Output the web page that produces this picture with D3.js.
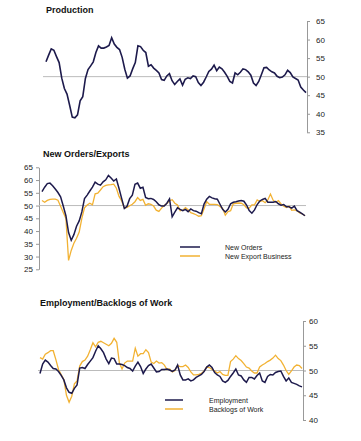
<!DOCTYPE html>
<html>
<head>
    <meta charset="utf-8">
    <title></title>
    <script src="https://d3js.org/d3.v7.min.js"></script>
    <style>
        body { margin: 0; background: #fff; }
        svg { font-family: "Liberation Sans", Arial, sans-serif; }
        .title { font-size: 9px; font-weight: bold; fill: #111; }
        .axis text { font-size: 8px; fill: #222; }
        .axis path, .axis line { stroke: #999; }
        .ref { stroke: #bbb; stroke-width: 1; }
        .legend text { font-size: 7px; fill: #222; }
    </style>
</head>
<body>
<div id="vis"></div>
<script>

    // monthly index values
    var production = [54, 55.8, 57.5, 57.1, 55.4, 53.8, 49.6, 46.8, 45.3, 42.3,
        39.1, 38.9, 39.7, 43.5, 44.6, 49.5, 51.9, 52.9, 54, 56.5,
        58.3, 57.7, 57.7, 58, 58.4, 60.5, 58.8, 57.9, 57.3, 55.2,
        52, 49.6, 50.2, 52.1, 53.8, 58.3, 58.1, 57.1, 56.5, 52.8,
        53.2, 52.3, 51.7, 51, 49.2, 49, 50.2, 50.8, 48.9, 47.9,
        48.7, 49.4, 47.7, 49.3, 49.7, 49.5, 50.2, 50, 48.4, 47.6,
        48.5, 49.9, 51.4, 52, 53.1, 51.6, 52.6, 52.1, 51.2, 50.1,
        48.7, 48.3, 51, 50.5, 51.2, 52.1, 51.9, 51.3, 50.4, 48.3,
        47.6, 48.7, 50.5, 52.4, 52.5, 51.8, 51.3, 51, 50.1, 49.7,
        49.9, 50.5, 51.7, 51.1, 49.9, 49.5, 49.1, 47.2, 46.4, 45.7];

    var newOrders = [55.5, 57.2, 58.6, 58.8, 57.8, 56.5, 55.1, 53.4, 49.8, 46,
        39.4, 36.4, 38.6, 41.9, 44, 47.5, 52.7, 54.1, 55.7, 57.2,
        59.2, 58.4, 58, 59.3, 60.1, 61.8, 60.8, 59.6, 60.4, 56.7,
        52.7, 48.9, 49.7, 52.7, 54.1, 58.3, 58.8, 56.8, 57.2, 53.2,
        52.7, 52.8, 52.4, 51.5, 50.3, 49.8, 49.8, 50.9, 52.6, 45.6,
        47.4, 49.1, 48.5, 48, 48.5, 47.6, 48.7, 48, 47.8, 47.2,
        46.8, 50.6, 52.5, 53.6, 53, 52.7, 52.5, 50.5, 48.5, 47.5,
        48.5, 50.7, 51.3, 51.5, 51.8, 52, 51.7, 50.2, 48, 47,
        48.3, 50.4, 51.8, 52.4, 52.8, 51.3, 51.3, 51.3, 51.6, 50.7,
        50.1, 50.4, 49.5, 49.5, 49, 49.8, 48, 47.4, 46.7, 46];

    var newExport = [52, 51.3, 52, 52.4, 52.5, 52.5, 52.1, 49.7, 47.3, 44.9,
        28.5, 32.4, 35.2, 37.2, 39.6, 45, 49.1, 50.2, 50.9, 50.3,
        54.6, 54.9, 56.1, 57.4, 57.9, 58.1, 58.2, 58.4, 56.8, 53.6,
        51.8, 49, 49.3, 49.9, 50.5, 51.5, 53.1, 52, 52.4, 50.1,
        50.7, 50.5, 49.8, 48.2, 47.7, 49, 50, 50.8, 51.9, 52.3,
        50.9, 50.2, 48, 48.2, 49.2, 48.4, 47.2, 46.8, 46.4, 45.8,
        46, 48.7, 51.5, 50.5, 50.5, 50.5, 50.4, 49.6, 48.9, 46.2,
        47.6, 48, 50.7, 50.9, 51, 50.9, 50.3, 49.1, 49, 50.3,
        50.3, 52.2, 51.6, 51.9, 51.1, 52.2, 54.5, 52.1, 51.3, 51.9,
        50.6, 49.7, 49.2, 49.8, 48.1, 48.3, 48, 47.1, 46.7, 46];

    var employment = [49.4, 51.3, 52.1, 51.7, 51, 50.4, 50.3, 49.8, 49, 48.1,
        46.5, 45.6, 45.4, 46.4, 47.1, 50.5, 50.6, 50.4, 51.2, 51.9,
        52.6, 53.9, 55, 54.4, 53.6, 52.3, 51.4, 52.5, 52.4, 51.3,
        51.3, 51.2, 51, 50.6, 50.4, 49.9, 50.9, 51.7, 50.8, 49.4,
        50.3, 51, 51.3, 50.5, 49.7, 49.8, 50.2, 50.2, 50.3, 50.1,
        49.8, 50.1, 51.1, 49.1, 48.1, 48.1, 48.3, 47.9, 48.1, 48.6,
        48.9, 49.2, 49.8, 50.7, 51.1, 50.6, 49.6, 49.1, 48.8, 47.9,
        47.6, 48, 48.8, 49.5, 50.3, 49.1, 48.9, 48.1, 47.6, 48.6,
        48.6, 48.3, 49, 49.5, 47.9, 47.6, 48.8, 49.2, 49.1, 49.6,
        49.8, 49.9, 48.8, 47.9, 48.5, 47.6, 47.4, 47.2, 46.9, 46.7];

    var backlogs = [52.6, 52.3, 53.3, 53.6, 54, 54, 52.2, 50.2, 49.2, 48.2,
        45, 43.6, 44.8, 47.3, 47.9, 50.9, 51.8, 52.1, 52.9, 54.2,
        55.6, 54.8, 55.7, 55.9, 55.6, 55.3, 55, 55.5, 56.5, 55.7,
        51.5, 50.3, 51.5, 51.9, 51.9, 51.9, 54.5, 52.9, 53.4, 53.4,
        54.2, 53.6, 51.7, 51.4, 51.9, 51.5, 51.6, 51.1, 50.2, 50.3,
        49.7, 50, 51, 50.8, 50.8, 51.1, 50.6, 49.7, 49.1, 49.1,
        49.2, 49.4, 49.9, 50.7, 50.6, 50.2, 49.9, 49.5, 49.8, 49.2,
        49, 49, 51.8, 52.3, 53, 52.4, 52, 51.4, 50.7, 50.5,
        49.9, 49.5, 49.5, 50.7, 51.1, 51.4, 51.8, 52.1, 52.5, 53.1,
        52.4, 52, 51.1, 50, 49.2, 49.9, 50.7, 51.1, 51, 50.4];

    var ticksProduction = [35, 40, 45, 50, 55, 60, 65];
    var ticksOrders = [25, 30, 35, 40, 45, 50, 55, 60, 65];
    var ticksEmployment = [40, 45, 50, 55, 60];

    var navy = "#1d1a4c",
        gold = "#f2b233";

    var svg = d3.select("#vis").append("svg")
            .attr("width", 361)
            .attr("height", 441);

    function lineFor(x, y) {
        return d3.line()
                .x(function(d, i){ return x(i); })
                .y(function(d){ return y(d); });
    }

    /*
     * Panel 1: Production
     */
    var x1 = d3.scaleLinear().domain([0, production.length - 1]).range([46, 306]);
    var y1 = d3.scaleLinear().domain([35, 65]).range([132.3, 21]);

    svg.append("text").attr("class", "title").attr("x", 46).attr("y", 13).text("Production");

    svg.append("line").attr("class", "ref")
            .attr("x1", 43).attr("x2", 307)
            .attr("y1", y1(50)).attr("y2", y1(50));

    svg.append("g").attr("class", "axis")
            .attr("transform", "translate(307,0)")
            .call(d3.axisRight(y1).tickValues(ticksProduction).tickSize(3).tickSizeOuter(0).tickPadding(6));

    svg.append("path").datum(production)
            .attr("fill", "none").attr("stroke", navy).attr("stroke-width", 1.6)
            .attr("d", lineFor(x1, y1));

    /*
     * Panel 2: New Orders/Exports
     */
    var x2 = d3.scaleLinear().domain([0, newOrders.length - 1]).range([42, 305]);
    var y2 = d3.scaleLinear().domain([25, 65]).range([269.3, 167.3]);

    svg.append("text").attr("class", "title").attr("x", 43).attr("y", 157).text("New Orders/Exports");

    svg.append("g").attr("class", "axis")
            .attr("transform", "translate(39,0)")
            .call(d3.axisLeft(y2).tickValues(ticksOrders).tickSize(3).tickSizeOuter(0).tickPadding(3));

    svg.append("line").attr("class", "ref")
            .attr("x1", 39).attr("x2", 306)
            .attr("y1", y2(50)).attr("y2", y2(50));

    svg.append("path").datum(newExport)
            .attr("fill", "none").attr("stroke", gold).attr("stroke-width", 1.3)
            .attr("d", lineFor(x2, y2));
    svg.append("path").datum(newOrders)
            .attr("fill", "none").attr("stroke", navy).attr("stroke-width", 1.5)
            .attr("d", lineFor(x2, y2));

    var leg2 = svg.append("g").attr("class", "legend");
    [["New Orders", navy], ["New Export Business", gold]].forEach(function(d, i){
        leg2.append("line").attr("x1", 180).attr("x2", 200)
                .attr("y1", 247 + i * 9).attr("y2", 247 + i * 9)
                .attr("stroke", d[1]).attr("stroke-width", 1.5);
        leg2.append("text").attr("x", 225).attr("y", 249.5 + i * 9).text(d[0]);
    });

    /*
     * Panel 3: Employment/Backlogs of Work
     */
    var x3 = d3.scaleLinear().domain([0, employment.length - 1]).range([40, 302]);
    var y3 = d3.scaleLinear().domain([40, 60]).range([420, 321]);

    svg.append("text").attr("class", "title").attr("x", 40).attr("y", 306).text("Employment/Backlogs of Work");

    svg.append("line").attr("class", "ref")
            .attr("x1", 38).attr("x2", 303)
            .attr("y1", y3(50)).attr("y2", y3(50));

    svg.append("g").attr("class", "axis")
            .attr("transform", "translate(303,0)")
            .call(d3.axisRight(y3).tickValues(ticksEmployment).tickSize(3).tickSizeOuter(0).tickPadding(3));

    svg.append("path").datum(backlogs)
            .attr("fill", "none").attr("stroke", gold).attr("stroke-width", 1.3)
            .attr("d", lineFor(x3, y3));
    svg.append("path").datum(employment)
            .attr("fill", "none").attr("stroke", navy).attr("stroke-width", 1.5)
            .attr("d", lineFor(x3, y3));

    var leg3 = svg.append("g").attr("class", "legend");
    [["Employment", navy], ["Backlogs of Work", gold]].forEach(function(d, i){
        leg3.append("line").attr("x1", 165).attr("x2", 183)
                .attr("y1", 400 + i * 9).attr("y2", 400 + i * 9)
                .attr("stroke", d[1]).attr("stroke-width", 1.5);
        leg3.append("text").attr("x", 209).attr("y", 402.5 + i * 9).text(d[0]);
    });

</script>
</body>
</html>
